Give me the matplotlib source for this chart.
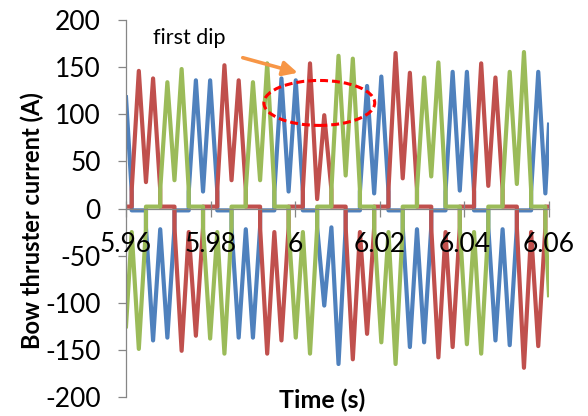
import matplotlib
matplotlib.use("Agg")
import matplotlib.pyplot as plt
from matplotlib.patches import Ellipse

plt.rcParams['font.family'] = ['Lato', 'DejaVu Sans']
plt.rcParams['axes.unicode_minus'] = False

# sample times (s); first and last are the plot window edges
t = [5.96000,
     5.96135, 5.96303, 5.96472, 5.96640, 5.96809, 5.96978, 5.97146, 5.97315,
     5.97483, 5.97652, 5.97821, 5.97989, 5.98158, 5.98327, 5.98495, 5.98664,
     5.98832, 5.99001, 5.99170, 5.99338, 5.99507, 5.99675, 5.99844, 6.00013,
     6.00181, 6.00350, 6.00519, 6.00687, 6.00856, 6.01024, 6.01193, 6.01362,
     6.01530, 6.01699, 6.01867, 6.02036, 6.02205, 6.02373, 6.02542, 6.02711,
     6.02879, 6.03048, 6.03216, 6.03385, 6.03554, 6.03722, 6.03891, 6.04059,
     6.04228, 6.04397, 6.04565, 6.04734, 6.04903, 6.05071, 6.05240, 6.05408,
     6.05577, 6.05746, 6.05914,
     6.06000]

# phase currents (A); a tuple = value just before / just after a switching instant
i_a = [118,
       (18, -2), -2, (-2, -20), -140, -22, -137, (-20, -2), -2,
       (-2, 18), 136, 18, 136, (18, -2), -2, (-2, -20), -137,
       -22, -137, (-20, -2), -2, (-2, 18), 138, 18, 136,
       (18, -2), -2, (-2, -20), -103, -20, -165, (-20, -2), -2,
       (-2, 18), 130, 16, 140, (18, -2), -2, (-2, -20), -147,
       -22, -142, (-20, -2), -2, (-2, 18), 145, 19, 145,
       (18, -2), -2, (-2, -20), -140, -22, -145, (-20, -2), -2,
       (-2, 18), 145, 16,
       89]

i_b = [2,
       (2, 20), 146, 28, 138, (20, 2), 2, (2, -20), -151,
       -25, -135, (-20, 2), 2, (2, 20), 152, 30, 136,
       (20, 2), 2, (2, -20), -154, -25, -140, (-20, 2), 2,
       (2, 20), 154, 10, 99, (20, 2), 2, (2, -20), -160,
       -25, -133, (-20, 2), 2, (2, 20), 165, 32, 144,
       (20, 2), 2, (2, -20), -158, -25, -147, (-20, 2), 2,
       (2, 20), 154, 24, 139, (20, 2), 2, (2, -20), -169,
       -25, -146, (-20, 2),
       2]

i_c = [-125,
       -25, -149, (-20, 2), 2, (2, 20), 134, 30, 148,
       (20, 2), 2, (2, -20), -138, -25, -154, (-20, 2), 2,
       (2, 20), 134, 30, 154, (20, 2), 2, (2, -20), -137,
       -25, -154, (-20, 2), 2, (2, 20), 162, 35, 159,
       (20, 2), 2, (2, -20), -142, -25, -165, (-20, 2), 2,
       (2, 20), 139, 34, 155, (20, 2), 2, (2, -20), -144,
       -25, -154, (-20, 2), 2, (2, 20), 145, 26, 166,
       (20, 2), 2, (2, -20),
       -92]

xticks = [5.96, 5.98, 6.0, 6.02, 6.04, 6.06]
xtick_labels = ['5.96', '5.98', '6', '6.02', '6.04', '6.06']
yticks = list(range(-200, 201, 50))


def vertices(times, values):
    xs, ys = [], []
    for ti, v in zip(times, values):
        for vi in (v if isinstance(v, tuple) else (v,)):
            xs.append(ti)
            ys.append(vi)
    return xs, ys


fig = plt.figure(figsize=(5.88, 4.16), dpi=100)
ax = fig.add_axes([126 / 588, 1 - 397 / 416, (549 - 126) / 588, (397 - 20) / 416])

for vals, color in [(i_a, '#4F81BD'), (i_b, '#C0504D'), (i_c, '#9BBB59')]:
    xs, ys = vertices(t, vals)
    ax.plot(xs, ys, color=color, lw=3.0, solid_joinstyle='round', zorder=2)

ax.set_xlim(5.96, 6.06)
ax.set_ylim(-200, 200)
ax.set_xticks(xticks)
ax.set_xticklabels(xtick_labels)
ax.set_yticks(yticks)

for s in ['top', 'right']:
    ax.spines[s].set_visible(False)
ax.spines['bottom'].set_position(('data', 0))
for s in ['left', 'bottom']:
    ax.spines[s].set_color('#868686')
    ax.spines[s].set_linewidth(0.9)
ax.set_axisbelow(False)

ax.tick_params(axis='y', direction='out', length=6, width=0.9, color='#868686',
               labelsize=19, pad=12)
ax.tick_params(axis='x', direction='inout', length=12, width=0.9, color='#868686',
               labelsize=19, pad=11)

# annotation
ax.text(5.9664, 181, 'first dip', fontsize=15.5, ha='left', va='center')
ax.annotate('', xy=(6.0006, 144), xytext=(5.9876, 160),
            arrowprops=dict(arrowstyle='-|>', color='#F79646', lw=2.6,
                            mutation_scale=22, shrinkA=0, shrinkB=0))
ax.add_patch(Ellipse((6.0057, 112), 0.0262, 47.7, fill=False, ec='#FF0000',
                     lw=2.2, ls=(0, (2.6, 1.3)), zorder=4))

fig.text(32 / 588, 1 - 221 / 416, 'Bow thruster current (A)', rotation=90,
         fontsize=17, fontweight='bold', ha='center', va='center')
fig.text(322 / 588, 1 - 400 / 416, 'Time (s)', fontsize=18, fontweight='bold',
         ha='center', va='center')

fig.savefig('out.png', dpi=100)
